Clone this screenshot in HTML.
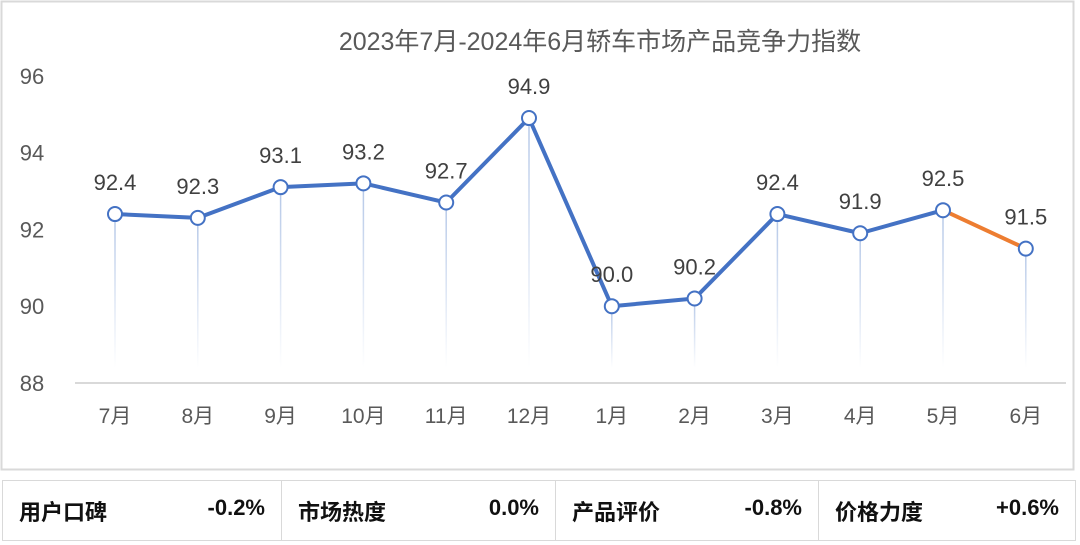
<!DOCTYPE html>
<html><head><meta charset="utf-8"><style>
body{margin:0;width:1080px;height:545px;background:#fff;overflow:hidden;font-family:"Liberation Sans","Noto Sans CJK SC",sans-serif}
#chart{position:absolute;left:0;top:0}
table{position:absolute;left:2px;top:480px;width:1074px;height:61px;border-collapse:collapse}
td{border:1px solid #d9d9d9;font-size:22px;font-weight:bold;color:#111;padding:0 16px}
td span{float:right}
</style></head><body>
<svg id="chart" width="1080" height="475">
<rect x="1.5" y="1.5" width="1072" height="468" fill="#fff" stroke="#d9d9d9" stroke-width="2"/>
<defs><linearGradient id="dl" x1="0" y1="0" x2="0" y2="1"><stop offset="0" stop-color="#b4c7e7"/><stop offset="1" stop-color="#b4c7e7" stop-opacity="0"/></linearGradient></defs>
<text x="600" y="50" text-anchor="middle" font-size="25" fill="#595959">2023年7月-2024年6月轿车市场产品竞争力指数</text>
<g id="g"></g>
</svg>
<table><tr>
<td style="width:246px">用户口碑<span>-0.2%</span></td>
<td style="width:241px">市场热度<span>0.0%</span></td>
<td style="width:230px">产品评价<span>-0.8%</span></td>
<td>价格力度<span>+0.6%</span></td>
</tr></table>
<script>
const categories=["7月","8月","9月","10月","11月","12月","1月","2月","3月","4月","5月","6月"];
const values=[92.4,92.3,93.1,93.2,92.7,94.9,90.0,90.2,92.4,91.9,92.5,91.5];
const yTicks=[88,90,92,94,96];
const NS="http://www.w3.org/2000/svg";
const g=document.getElementById('g');
const X=i=>115+i*82.8;
const Y=v=>383-(v-88)*38.4;
function mk(t,a){const e=document.createElementNS(NS,t);for(const k in a)e.setAttribute(k,a[k]);g.appendChild(e);return e;}
yTicks.forEach(t=>{const e=mk('text',{x:32,y:Y(t)+8,'text-anchor':'middle','font-size':22,fill:'#595959'});e.textContent=t;

});
const ax=mk('line',{x1:75,x2:1066,y1:383,y2:383,stroke:'#d9d9d9','stroke-width':2});


categories.forEach((c,i)=>{const e=mk('text',{x:X(i),y:423,'text-anchor':'middle','font-size':21,fill:'#595959'});e.textContent=c;


const d=mk('rect',{x:X(i)-0.75,y:Y(values[i]),width:1.5,height:Math.max(1,368-Y(values[i])),fill:'url(#dl)'});

});
const n=values.length;
let p='';for(let i=0;i<n-1;i++)p+=(i?'L':'M')+X(i)+' '+Y(values[i]);
const l=mk('path',{d:p,fill:'none',stroke:'#4472c4','stroke-width':4,'stroke-linejoin':'round'});


const l2=mk('line',{x1:X(n-2),y1:Y(values[n-2]),x2:X(n-1),y2:Y(values[n-1]),stroke:'#ed7d31','stroke-width':4});


values.forEach((v,i)=>{const c=mk('circle',{cx:X(i),cy:Y(v),r:7,fill:'#fff',stroke:'#4472c4','stroke-width':2});


const t=mk('text',{x:X(i),y:Y(v)-24,'text-anchor':'middle','font-size':22,fill:'#404040'});t.textContent=v.toFixed(1);

});
</script>
</body></html>
